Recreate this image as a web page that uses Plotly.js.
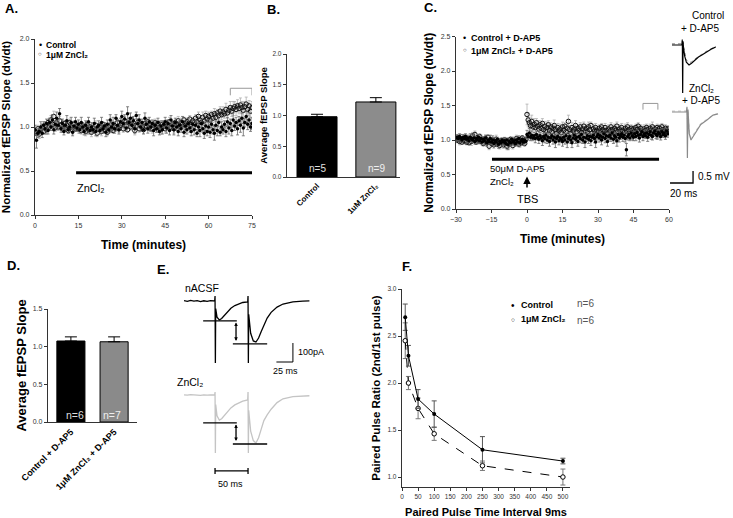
<!DOCTYPE html>
<html><head><meta charset="utf-8">
<script src="https://cdn.plot.ly/plotly-3.0.1.min.js"></script>
<style>html,body{margin:0;padding:0;background:#fff}#chart{width:733px;height:518px}</style>
</head><body><div id="chart"></div>
<script>
const W=733,H=518;
const FONT='"Liberation Sans", Arial, sans-serif';

// ---------- Panel A: time course (min), sampled every 0.5 min ----------
const A_T0=0, A_DT=0.5;
const A_CTRL=[0.97,0.85,0.93,0.95,1.0,0.93,1.02,0.98,1.04,0.96,
1.05,1.0,1.08,0.97,1.03,1.1,1.02,1.15,0.98,1.04,
0.95,1.02,1.07,0.97,1.0,1.05,0.94,1.01,1.06,0.99,
1.03,0.97,1.05,1.0,0.95,1.02,0.98,1.06,0.96,1.0,
0.97,1.04,0.95,1.0,1.02,0.96,1.05,0.98,1.01,0.94,
1.03,0.97,1.08,1.0,1.04,0.98,1.1,1.02,0.97,1.06,
1.12,1.04,1.09,0.99,1.15,1.05,1.1,1.02,1.07,0.98,
1.13,1.04,1.08,1.0,1.05,0.97,1.1,1.03,0.98,1.06,
1.0,1.04,0.96,1.02,0.98,1.05,0.95,1.01,0.97,1.03,
1.06,0.99,1.04,0.96,1.08,1.01,0.97,1.05,1.0,0.95,
1.02,0.98,1.06,0.94,1.01,0.97,1.04,0.99,0.95,1.03,
0.97,1.02,0.93,1.0,0.96,1.04,0.98,0.93,1.01,0.95,
1.0,0.94,1.03,0.97,0.93,1.02,0.96,1.05,0.94,1.0,
0.97,1.03,0.95,1.06,0.99,1.04,0.96,1.08,1.01,1.05,
0.98,1.07,1.02,1.1,0.99,1.05,1.12,1.03,1.08,1.0,1.04];
const A_CTRL_ERR=[0.05,0.09,0.05,0.04,0.06,0.05,0.04,0.06,0.05,0.04,
0.05,0.04,0.06,0.05,0.04,0.07,0.05,0.06,0.04,0.05,
0.04,0.05,0.06,0.04,0.05,0.06,0.04,0.05,0.05,0.04,
0.05,0.04,0.06,0.05,0.04,0.05,0.06,0.05,0.04,0.05,
0.04,0.06,0.05,0.04,0.05,0.04,0.06,0.05,0.04,0.05,
0.05,0.04,0.06,0.05,0.07,0.05,0.04,0.06,0.05,0.04,
0.06,0.05,0.05,0.04,0.08,0.05,0.06,0.04,0.05,0.05,
0.04,0.05,0.06,0.05,0.04,0.05,0.06,0.04,0.05,0.05,
0.05,0.04,0.06,0.05,0.04,0.05,0.04,0.06,0.05,0.04,
0.05,0.06,0.04,0.05,0.05,0.04,0.06,0.05,0.04,0.05,
0.05,0.04,0.06,0.05,0.04,0.05,0.06,0.05,0.05,0.04,
0.06,0.05,0.04,0.05,0.07,0.05,0.04,0.06,0.05,0.05,
0.05,0.06,0.04,0.05,0.08,0.05,0.06,0.05,0.04,0.06,
0.05,0.04,0.06,0.05,0.07,0.05,0.06,0.08,0.05,0.06,
0.07,0.05,0.08,0.06,0.09,0.05,0.07,0.06,0.08,0.05,0.07];
const A_ZN=[0.95,0.93,0.98,0.92,0.97,1.0,0.95,1.02,0.97,1.05,
1.0,1.08,1.03,1.12,0.99,1.05,1.0,1.07,1.02,0.98,
1.04,0.99,1.02,0.96,1.05,1.0,0.97,1.03,0.98,1.01,
0.98,1.02,0.96,1.01,0.99,0.95,1.03,0.97,1.0,0.94,
0.99,0.96,1.02,0.93,0.98,1.01,0.95,1.03,0.97,1.0,
0.94,1.0,0.97,1.03,0.96,1.01,0.99,1.05,0.98,1.02,
1.04,0.98,1.07,1.01,0.97,1.05,1.0,1.08,1.02,0.96,
1.01,1.05,0.98,1.03,1.0,0.97,1.04,1.01,1.06,0.99,
1.03,0.98,1.02,1.05,0.99,1.04,1.0,0.97,1.03,1.01,
0.98,1.04,1.01,1.06,1.0,1.03,0.98,1.05,1.02,1.07,
1.01,1.05,1.03,1.08,1.02,1.06,1.04,1.09,1.03,1.07,
1.05,1.1,1.06,1.12,1.08,1.05,1.11,1.07,1.13,1.09,
1.12,1.08,1.14,1.1,1.15,1.11,1.16,1.13,1.18,1.14,
1.17,1.15,1.2,1.16,1.19,1.22,1.18,1.21,1.23,1.2,
1.24,1.21,1.25,1.22,1.19,1.23,1.26,1.2,1.24,1.18,1.22];
const A_ZN_ERR=[0.04,0.03,0.04,0.05,0.03,0.04,0.03,0.04,0.05,0.03,
0.04,0.05,0.03,0.06,0.04,0.03,0.04,0.05,0.03,0.04,
0.03,0.04,0.05,0.03,0.04,0.03,0.05,0.04,0.03,0.04,
0.05,0.03,0.04,0.03,0.04,0.05,0.03,0.04,0.03,0.05,
0.04,0.03,0.05,0.04,0.03,0.04,0.05,0.03,0.04,0.03,
0.04,0.05,0.03,0.04,0.03,0.05,0.04,0.03,0.04,0.05,
0.03,0.04,0.05,0.04,0.03,0.06,0.04,0.03,0.04,0.05,
0.04,0.03,0.04,0.05,0.03,0.04,0.03,0.05,0.04,0.03,
0.04,0.05,0.03,0.04,0.05,0.03,0.04,0.05,0.04,0.03,
0.05,0.04,0.03,0.05,0.04,0.04,0.05,0.03,0.04,0.05,
0.04,0.05,0.04,0.03,0.05,0.04,0.05,0.04,0.05,0.04,
0.05,0.04,0.06,0.05,0.04,0.05,0.06,0.04,0.05,0.06,
0.05,0.06,0.04,0.05,0.06,0.05,0.04,0.06,0.05,0.06,
0.06,0.05,0.07,0.06,0.05,0.07,0.06,0.08,0.06,0.07,
0.07,0.06,0.08,0.07,0.09,0.06,0.08,0.07,0.06,0.08,0.07];
const A_ZN_PERIOD=[14.2,75];      // ZnCl2 application (min)
const A_AVG_WINDOW=[67.5,75];     // averaging window (min)

// ---------- Panel B ----------
const B_LABELS=['Control','1uM ZnCl₂'];
const B_MEANS=[0.98,1.22];
const B_SEM=[0.04,0.07];
const B_N=['n=5','n=9'];

// ---------- Panel C: time course with D-AP5, sampled every 0.5 min ----------
const C_T0=-30, C_DT=0.5;
const C_CTRL=[1.03,1.04,1.02,1.05,1.03,1.0,1.04,1.02,1.05,1.01,
1.03,0.99,1.04,1.02,1.0,1.03,0.98,1.02,1.0,1.04,
0.99,1.02,0.97,1.01,0.99,1.03,0.96,1.0,0.98,1.02,
0.97,1.0,0.95,0.99,0.97,1.01,0.94,0.98,0.96,1.0,
0.97,0.99,0.95,1.0,0.93,0.98,0.96,1.01,0.97,0.99,
0.95,1.0,0.97,1.02,0.96,0.99,1.01,0.97,1.0,0.98,
1.08,1.05,1.1,1.04,1.07,1.03,1.06,1.02,1.08,1.04,
1.01,1.06,1.03,0.99,1.05,1.02,1.07,1.0,1.04,0.98,
1.03,1.06,1.0,1.04,0.97,1.02,1.05,0.99,1.03,1.01,
0.98,1.04,1.0,1.06,0.97,1.02,1.05,1.0,0.96,1.03,
1.07,1.01,1.04,0.98,1.05,1.02,1.08,1.0,1.04,0.97,
1.03,1.06,1.01,1.05,0.99,1.04,1.07,1.02,0.97,1.05,
1.08,1.03,1.06,1.0,1.04,1.09,1.02,1.06,0.98,1.05,
1.07,1.03,1.1,1.01,1.06,1.04,0.99,1.08,1.03,1.06,
1.09,1.04,1.07,1.02,0.86,1.05,1.08,1.03,1.1,1.06,
1.04,1.09,1.05,1.11,1.07,1.03,1.08,1.12,1.05,1.09,
1.06,1.1,1.04,1.08,1.12,1.07,1.05,1.1,1.13,1.08,
1.06,1.11,1.09,1.05,1.12,1.08,1.1,1.06,1.13,1.09];
const C_CTRL_ERR=[0.03,0.04,0.03,0.04,0.05,0.03,0.04,0.03,0.04,0.05,
0.04,0.03,0.05,0.04,0.03,0.06,0.04,0.03,0.05,0.04,
0.03,0.05,0.04,0.03,0.06,0.04,0.05,0.03,0.04,0.05,
0.04,0.06,0.03,0.05,0.04,0.03,0.06,0.04,0.05,0.03,
0.05,0.04,0.06,0.03,0.07,0.04,0.05,0.03,0.04,0.05,
0.04,0.03,0.05,0.04,0.06,0.03,0.04,0.05,0.03,0.04,
0.06,0.05,0.07,0.05,0.06,0.04,0.05,0.06,0.05,0.04,
0.06,0.05,0.04,0.07,0.05,0.06,0.04,0.05,0.06,0.07,
0.05,0.04,0.06,0.05,0.08,0.05,0.04,0.06,0.05,0.05,
0.07,0.05,0.06,0.04,0.08,0.05,0.06,0.05,0.07,0.05,
0.04,0.06,0.05,0.07,0.05,0.06,0.04,0.05,0.06,0.08,
0.05,0.04,0.06,0.05,0.07,0.05,0.04,0.06,0.08,0.05,
0.05,0.06,0.04,0.07,0.05,0.05,0.06,0.04,0.07,0.05,
0.06,0.05,0.04,0.06,0.05,0.07,0.08,0.05,0.06,0.05,
0.05,0.06,0.04,0.05,0.09,0.05,0.06,0.04,0.05,0.06,
0.05,0.04,0.06,0.05,0.05,0.06,0.04,0.05,0.06,0.05,
0.04,0.05,0.06,0.05,0.04,0.06,0.05,0.05,0.04,0.06,
0.05,0.04,0.06,0.05,0.05,0.04,0.06,0.05,0.04,0.05];
const C_ZN=[1.02,1.0,1.03,0.98,1.01,0.97,1.02,0.99,1.04,0.97,
1.0,0.96,1.02,0.98,1.06,1.0,1.08,0.97,1.03,0.99,
1.05,0.98,1.0,0.95,0.99,1.02,0.96,1.04,0.91,0.98,
0.95,1.0,0.93,0.97,1.01,0.94,0.98,0.92,0.99,0.96,
0.93,1.0,0.95,0.91,0.98,0.94,1.01,0.96,0.92,0.99,
0.95,1.02,0.97,0.94,1.0,0.96,1.03,0.98,0.95,1.01,
1.37,1.29,1.25,1.21,1.27,1.19,1.23,1.18,1.25,1.2,
1.16,1.22,1.17,1.24,1.15,1.2,1.13,1.18,1.22,1.14,
1.19,1.12,1.17,1.21,1.15,1.1,1.18,1.13,1.16,1.11,
1.19,1.14,1.2,1.12,1.17,1.27,1.15,1.1,1.18,1.13,
1.16,1.21,1.12,1.17,1.14,1.19,1.11,1.16,1.2,1.13,
1.17,1.12,1.19,1.15,1.21,1.1,1.16,1.13,1.18,1.14,
1.11,1.17,1.13,1.19,1.15,1.12,1.18,1.14,1.1,1.16,
1.13,1.19,1.15,1.11,1.17,1.14,1.2,1.12,1.16,1.13,
1.18,1.14,1.11,1.17,1.13,1.19,1.15,1.12,1.17,1.14,
1.16,1.12,1.18,1.15,1.2,1.13,1.17,1.14,1.11,1.16,
1.13,1.18,1.15,1.12,1.17,1.14,1.19,1.13,1.16,1.12,
1.18,1.14,1.17,1.13,1.19,1.15,1.12,1.17,1.14,1.16];
const C_ZN_ERR=[0.03,0.04,0.03,0.05,0.04,0.03,0.04,0.05,0.03,0.04,
0.05,0.03,0.04,0.06,0.05,0.04,0.05,0.03,0.04,0.05,
0.04,0.03,0.05,0.04,0.03,0.05,0.04,0.03,0.05,0.04,
0.04,0.03,0.05,0.04,0.06,0.04,0.03,0.05,0.04,0.03,
0.05,0.04,0.03,0.05,0.04,0.06,0.03,0.04,0.05,0.03,
0.04,0.05,0.03,0.04,0.05,0.04,0.03,0.05,0.04,0.03,
0.15,0.1,0.08,0.07,0.09,0.06,0.08,0.07,0.06,0.08,
0.07,0.06,0.08,0.07,0.06,0.07,0.05,0.08,0.06,0.07,
0.06,0.07,0.05,0.08,0.06,0.07,0.06,0.05,0.07,0.06,
0.07,0.06,0.05,0.07,0.06,0.09,0.06,0.05,0.07,0.06,
0.05,0.07,0.06,0.05,0.07,0.06,0.05,0.07,0.06,0.05,
0.06,0.05,0.07,0.06,0.05,0.06,0.07,0.05,0.06,0.05,
0.06,0.05,0.07,0.05,0.06,0.05,0.06,0.07,0.05,0.06,
0.05,0.06,0.05,0.07,0.06,0.05,0.06,0.05,0.06,0.05,
0.06,0.05,0.07,0.06,0.05,0.06,0.05,0.06,0.05,0.06,
0.05,0.06,0.05,0.07,0.05,0.06,0.05,0.06,0.05,0.06,
0.06,0.05,0.06,0.05,0.06,0.05,0.07,0.06,0.05,0.06,
0.05,0.06,0.05,0.06,0.05,0.07,0.06,0.05,0.06,0.05];
const C_DRUG_PERIOD=[-14.8,55.8];  // D-AP5 + ZnCl2 (min)
const C_AVG_WINDOW=[49,55.3];
const C_TBS_TIME=0;
// example fEPSP traces (ms, mV)
const C_TR_T=[0,8.5,9.0,9.3,9.6,10.0,11,12.5,14.8,17,20,23,26,31.3,35,38];
const C_TR_CTRL=[0,0,0.2,-2.0,0.15,-0.1,-0.45,-0.72,-0.83,-0.76,-0.62,-0.5,-0.42,-0.25,-0.15,-0.08];
const C_TR_CTRL_BASE=[0.05,0.05,0.25,-0.3,0.1,-0.05,-0.35,-0.62,-0.74,-0.7,-0.58,-0.46,-0.38,-0.22,-0.13,-0.06];
const C_TR_ZN_T=[0,12.5,13.0,13.4,13.9,14.3,15,16.5,18,21.7,25,30.4,33,35.7,40];
const C_TR_ZN=[0,0,0.2,-1.92,0.1,-0.3,-0.9,-1.17,-1.05,-0.75,-0.52,-0.33,-0.22,-0.13,-0.08];
const C_TR_ZN_BASE=[0.04,0.04,0.22,-0.3,0.08,-0.25,-0.8,-1.08,-0.98,-0.7,-0.48,-0.3,-0.2,-0.12,-0.07];
const C_BAR_MS=20, C_BAR_MV=0.5;

// ---------- Panel D ----------
const D_LABELS=['Control + D-AP5','1μM ZnCl₂ + D-AP5'];
const D_MEANS=[1.075,1.065];
const D_SEM=[0.055,0.065];
const D_N=['n=6','n=7'];

// ---------- Panel E: paired-pulse currents (ms, pA) ----------
const E_T=[0,5,10,15,20,25,30,35,40,46.5,47,47.5,48,50,53.5,57,61,66,71,77,83,89,96.5,97,97.5,98,101,105,109,113,117,121,126,132,141,150,165,180,190];
const E_ACSF=[2,-2,3,-1,2,-3,1,-2,2,0,26,-326,-40,-85,-100,-92,-75,-55,-38,-24,-14,-8,-5,26,-326,-70,-170,-210,-216,-195,-160,-125,-90,-60,-32,-16,-5,-1,0];
const E_ZN=[1,-1,2,0,1,-2,1,-1,1,0,16,-305,-50,-110,-132,-125,-108,-88,-68,-52,-40,-32,-26,16,-305,-80,-190,-240,-253,-225,-180,-135,-105,-75,-40,-20,-9,-5,-4];
const E_ACSF_PEAKS=[-105,-226];
const E_ZN_PEAKS=[-147,-258];
const E_BAR_MS=25, E_BAR_PA=100, E_ISI_MS=50;

// ---------- Panel F: paired-pulse ratio ----------
const F_INTERVAL=[10,20,50,100,250,500];
const F_CTRL=[2.70,2.29,1.83,1.67,1.29,1.17];
const F_CTRL_ERR=[0.14,0.11,0.10,0.14,0.14,0.03];
const F_ZN=[2.45,2.00,1.73,1.46,1.12,1.00];
const F_ZN_ERR=[0.19,0.07,0.11,0.07,0.05,0.085];

// ================= build =================
const times=(arr,t0,dt)=>arr.map((_,i)=>t0+i*dt);
const fx=px=>px/W, fy=py=>1-py/H;
const dx=(a,b)=>[fx(a),fx(b)], dy=(top,bot)=>[fy(bot),fy(top)];
function ax(domain,range,extra){
  return Object.assign({domain,range,showline:true,linecolor:'#333',linewidth:1.2,ticks:'outside',ticklen:3,tickwidth:1,tickcolor:'#333',
    tickfont:{family:FONT,size:7,color:'#333'},showgrid:false,zeroline:false,fixedrange:true},extra||{});
}
function ttl(text,size,standoff){return {text:'<b>'+text+'</b>',font:{family:FONT,size,color:'#000'},standoff};}
function hid(domain,range,anchor){return {domain,range,visible:false,fixedrange:true,anchor};}

const tA=times(A_CTRL,A_T0,A_DT), tC=times(C_CTRL,C_T0,C_DT);
const traces=[];
// A
traces.push({x:tA,y:A_ZN,type:'scatter',mode:'markers',xaxis:'x',yaxis:'y',
  marker:{symbol:'circle-open',size:4.5,color:'#111',line:{width:1}},
  error_y:{type:'data',array:A_ZN_ERR,color:'#b0b0b0',thickness:0.8,width:1.5}});
traces.push({x:tA,y:A_CTRL,type:'scatter',mode:'markers',xaxis:'x',yaxis:'y',
  marker:{size:3.5,color:'#000'},
  error_y:{type:'data',array:A_CTRL_ERR,color:'#666',thickness:0.8,width:1.5}});
traces.push({x:A_ZN_PERIOD,y:[0.48,0.48],mode:'lines',xaxis:'x',yaxis:'y',line:{color:'#000',width:3}});
traces.push({x:[A_AVG_WINDOW[0],A_AVG_WINDOW[0],A_AVG_WINDOW[1],A_AVG_WINDOW[1]],y:[1.36,1.44,1.44,1.36],mode:'lines',xaxis:'x',yaxis:'y',line:{color:'#999',width:1}});
// B
traces.push({x:[0,1],y:B_MEANS,type:'bar',xaxis:'x2',yaxis:'y2',width:0.68,
  marker:{color:['#000','#8c8c8c'],line:{color:'#000',width:1}},
  error_y:{type:'data',array:B_SEM,arrayminus:[0,0],color:'#000',thickness:1,width:6}});
// C
traces.push({x:tC,y:C_ZN,type:'scatter',mode:'markers',xaxis:'x3',yaxis:'y3',
  marker:{symbol:'circle-open',size:4.5,color:'#111',line:{width:1}},
  error_y:{type:'data',array:C_ZN_ERR,color:'#b0b0b0',thickness:0.8,width:1.5}});
traces.push({x:tC,y:C_CTRL,type:'scatter',mode:'markers',xaxis:'x3',yaxis:'y3',
  marker:{size:3.5,color:'#000'},
  error_y:{type:'data',array:C_CTRL_ERR,color:'#666',thickness:0.8,width:1.5}});
traces.push({x:C_DRUG_PERIOD,y:[0.72,0.72],mode:'lines',xaxis:'x3',yaxis:'y3',line:{color:'#000',width:3}});
traces.push({x:[C_AVG_WINDOW[0],C_AVG_WINDOW[0],C_AVG_WINDOW[1],C_AVG_WINDOW[1]],y:[1.44,1.53,1.53,1.44],mode:'lines',xaxis:'x3',yaxis:'y3',line:{color:'#999',width:1}});
// C example traces
traces.push({x:C_TR_T,y:C_TR_CTRL_BASE,mode:'lines',xaxis:'x8',yaxis:'y8',line:{color:'#888',width:1,dash:'dot'}});
traces.push({x:C_TR_T,y:C_TR_CTRL,mode:'lines',xaxis:'x8',yaxis:'y8',line:{color:'#000',width:1.2}});
traces.push({x:C_TR_ZN_T,y:C_TR_ZN_BASE,mode:'lines',xaxis:'x9',yaxis:'y9',line:{color:'#c8c8c8',width:1,dash:'dot'}});
traces.push({x:C_TR_ZN_T,y:C_TR_ZN,mode:'lines',xaxis:'x9',yaxis:'y9',line:{color:'#8a8a8a',width:1.2}});
const cbx=18.3, cby=-2.96;
traces.push({x:[cbx-C_BAR_MS,cbx,cbx],y:[cby,cby,cby+C_BAR_MV],mode:'lines',xaxis:'x9',yaxis:'y9',line:{color:'#000',width:1.3}});
// D
traces.push({x:[0,1],y:D_MEANS,type:'bar',xaxis:'x4',yaxis:'y4',width:0.65,
  marker:{color:['#000','#8a8a8a'],line:{color:'#000',width:1}},
  error_y:{type:'data',array:D_SEM,arrayminus:[0,0],color:'#000',thickness:1,width:6}});
// E
traces.push({x:E_T,y:E_ACSF,mode:'lines',xaxis:'x6',yaxis:'y6',line:{color:'#000',width:1.3}});
traces.push({x:[29,80,null,74,126],y:[E_ACSF_PEAKS[0],E_ACSF_PEAKS[0],null,E_ACSF_PEAKS[1],E_ACSF_PEAKS[1]],mode:'lines',xaxis:'x6',yaxis:'y6',line:{color:'#000',width:1.3}});
const ebx=165, eby=-321;
traces.push({x:[ebx-E_BAR_MS,ebx,ebx],y:[eby,eby,eby+E_BAR_PA],mode:'lines',xaxis:'x6',yaxis:'y6',line:{color:'#000',width:1}});
traces.push({x:E_T,y:E_ZN,mode:'lines',xaxis:'x7',yaxis:'y7',line:{color:'#c4c4c4',width:1.3}});
traces.push({x:[29,80,null,74,126],y:[E_ZN_PEAKS[0],E_ZN_PEAKS[0],null,E_ZN_PEAKS[1],E_ZN_PEAKS[1]],mode:'lines',xaxis:'x7',yaxis:'y7',line:{color:'#000',width:1.3}});
const isx=47, isy=-400;
traces.push({x:[isx,isx,null,isx,isx+E_ISI_MS,null,isx+E_ISI_MS,isx+E_ISI_MS],y:[isy+16,isy-16,null,isy,isy,null,isy+16,isy-16],mode:'lines',xaxis:'x7',yaxis:'y7',line:{color:'#000',width:1.3}});
// F
traces.push({x:F_INTERVAL,y:F_ZN,mode:'lines+markers',xaxis:'x5',yaxis:'y5',
  line:{color:'#000',width:1,dash:'dash'},marker:{size:4.5,color:'#fff',line:{color:'#000',width:1}},
  error_y:{type:'data',array:F_ZN_ERR,color:'#777',thickness:1,width:2.5}});
traces.push({x:F_INTERVAL,y:F_CTRL,mode:'lines+markers',xaxis:'x5',yaxis:'y5',
  line:{color:'#000',width:1},marker:{size:4,color:'#000'},
  error_y:{type:'data',array:F_CTRL_ERR,color:'#555',thickness:1,width:2.5}});
traces.forEach(t=>{t.showlegend=false;t.hoverinfo='skip';});

function T(text,x,y,o){
  const f=Object.assign({family:FONT,size:10,color:'#000'},(o&&o.font)||{});
  const a=Object.assign({text,x:fx(x),y:fy(y),xref:'paper',yref:'paper',showarrow:false,xanchor:'center',yanchor:'middle'},o||{});
  a.font=f; return a;
}
function dblArrow(xv,y0,y1,xa,ya){
  return {x:xv,y:y0,ax:xv,ay:y1,xref:xa,yref:ya,axref:xa,ayref:ya,showarrow:true,arrowhead:2,arrowsize:0.55,arrowwidth:1.3,arrowside:'end+start',arrowcolor:'#000',text:''};
}
const ann=[
  T('<b>A.</b>',3,9,{xanchor:'left',font:{size:13}}),
  T('<b>B.</b>',265,10,{xanchor:'left',font:{size:13}}),
  T('<b>C.</b>',422,8,{xanchor:'left',font:{size:13}}),
  T('<b>D.</b>',5,265,{xanchor:'left',font:{size:13}}),
  T('<b>E.</b>',155,269,{xanchor:'left',font:{size:13}}),
  T('<b>F.</b>',400,266,{xanchor:'left',font:{size:13}}),
  // A
  T('•',40,45,{font:{size:9}}),
  T('○',40,54,{font:{size:6}}),
  T('<b>Control</b>',44,45,{xanchor:'left',font:{size:8.5}}),
  T('<b>1μM ZnCl₂</b>',44,55,{xanchor:'left',font:{size:8.5}}),
  T('ZnCl₂',75,188,{xanchor:'left',font:{size:11}}),
  // B
  T(B_N[0],317,168,{font:{size:10,color:'#e0e0e0'}}),
  T(B_N[1],376,168,{font:{size:10,color:'#f0f0f0'}}),
  // C
  T('•',465,38,{font:{size:9}}),
  T('○',465,50,{font:{size:6}}),
  T('<b>Control + D-AP5</b>',469,38,{xanchor:'left',font:{size:9}}),
  T('<b>1μM ZnCl₂ + D-AP5</b>',469,51,{xanchor:'left',font:{size:9}}),
  T('50μM D-AP5',488,168,{xanchor:'left',font:{size:9.5}}),
  T('ZnCl₂',488,182,{xanchor:'left',font:{size:9.5}}),
  T('TBS',527,199,{font:{size:11}}),
  T('Control',708,15,{font:{size:10}}),
  T('+ D-AP5',700,28,{font:{size:10}}),
  T('ZnCl₂',701,88,{font:{size:10}}),
  T('+ D-AP5',701,100,{font:{size:10}}),
  T('0.5 mV',696,176,{xanchor:'left',font:{size:10}}),
  T('20 ms',683,193,{font:{size:10}}),
  {x:C_TBS_TIME,y:0.47,ax:C_TBS_TIME,ay:0.29,xref:'x3',yref:'y3',axref:'x3',ayref:'y3',showarrow:true,arrowhead:2,arrowsize:1,arrowwidth:1.5,arrowcolor:'#000',text:''},
  // D
  T(D_N[0],75,415,{font:{size:10.5,color:'#ddd'}}),
  T(D_N[1],112,415,{font:{size:10.5,color:'#eee'}}),
  // E
  T('nACSF',183,288,{xanchor:'left',font:{size:10.5}}),
  T('ZnCl₂',175,382,{xanchor:'left',font:{size:10.5}}),
  T('100pA',296,352,{xanchor:'left',font:{size:9}}),
  T('25 ms',285,371,{font:{size:9}}),
  T('50 ms',231,484,{font:{size:9}}),
  dblArrow(78.8,E_ACSF_PEAKS[0]-8,E_ACSF_PEAKS[1]+8,'x6','y6'),
  dblArrow(78.8,E_ZN_PEAKS[0]-8,E_ZN_PEAKS[1]+8,'x7','y7'),
  // F
  T('•',513,305,{font:{size:10}}),
  T('○',513,319,{font:{size:6.5}}),
  T('<b>Control</b>',519,305,{xanchor:'left',font:{size:9}}),
  T('<b>1μM ZnCl₂</b>',519,319,{xanchor:'left',font:{size:9}}),
  T('n=6',575,303,{xanchor:'left',font:{size:10,color:'#555'}}),
  T('n=6',575,320,{xanchor:'left',font:{size:10,color:'#555'}})
];

const layout={
  width:W,height:H,margin:{l:0,r:0,t:0,b:0},paper_bgcolor:'#fff',plot_bgcolor:'rgba(0,0,0,0)',showlegend:false,
  font:{family:FONT,color:'#000'},
  xaxis:ax(dx(35,252),[0,75],{anchor:'y',tickvals:[0,15,30,45,60,75],title:ttl('Time (minutes)',12,13)}),
  yaxis:ax(dy(39,215),[0,2],{anchor:'x',tickvals:[0,0.5,1,1.5,2],tickformat:'.1f',title:ttl('Normalized fEPSP Slope (dv/dt)',11.5,8)}),
  xaxis2:ax(dx(287,400),[-0.51,1.41],{anchor:'y2',ticks:'',tickvals:[0,1],ticktext:B_LABELS.map(s=>'<b>'+s+'</b>'),tickangle:-45,tickfont:{family:FONT,size:8,color:'#000'}}),
  yaxis2:ax(dy(54,177),[0,2],{anchor:'x2',tickvals:[0,0.5,1,1.5,2],tickformat:'.1f',tickfont:{family:FONT,size:6.5,color:'#333'},title:ttl('Average fEPSP Slope',9.5,3)}),
  xaxis3:ax(dx(456,669),[-30,60],{anchor:'y3',tickvals:[-30,-15,0,15,30,45,60],title:ttl('Time (minutes)',12,13)}),
  yaxis3:ax(dy(36.5,209),[0,2.5],{anchor:'x3',tickvals:[0,0.5,1,1.5,2,2.5],tickformat:'.1f',title:ttl('Normalized fEPSP Slope (dv/dt)',12,4)}),
  xaxis4:ax(dx(48,137),[-0.53,1.53],{anchor:'y4',ticks:'',tickvals:[0,1],ticktext:D_LABELS.map(s=>'<b>'+s+'</b>'),tickangle:-45,tickfont:{family:FONT,size:9,color:'#000'}}),
  yaxis4:ax(dy(309,422),[0,1.5],{anchor:'x4',tickvals:[0,0.5,1,1.5],tickformat:'.1f',title:ttl('Average fEPSP Slope',13,3)}),
  xaxis5:ax(dx(402,570),[0,522],{anchor:'y5',tickvals:[0,50,100,150,200,250,300,350,400,450,500],tickfont:{family:FONT,size:6.5,color:'#333'},title:ttl('Paired Pulse Time Interval 9ms',11,8.5)}),
  yaxis5:ax(dy(289,487),[0.894,3.0],{anchor:'x5',tickvals:[1,1.5,2,2.5,3],tickformat:'.1f',tickfont:{family:FONT,size:6.5,color:'#333'},title:ttl('Paired Pulse Ratio (2nd/1st pulse)',11.5,4)}),
  xaxis6:hid(dx(160,310),[-36.4,190.9],'y6'), yaxis6:hid(dy(285,370),[-363,84],'x6'),
  xaxis7:hid(dx(160,310),[-36.4,190.9],'y7'), yaxis7:hid(dy(380,485),[-474,79],'x7'),
  xaxis8:hid(dx(660,733),[-10.4,53],'y8'), yaxis8:hid(dy(35,100),[-2.29,0.417],'x8'),
  xaxis9:hid(dx(660,733),[-10.4,53],'y9'), yaxis9:hid(dy(102,200),[-3.67,0.417],'x9'),
  annotations:ann
};
Plotly.newPlot('chart',traces,layout,{staticPlot:true,displayModeBar:false});
</script></body></html>
